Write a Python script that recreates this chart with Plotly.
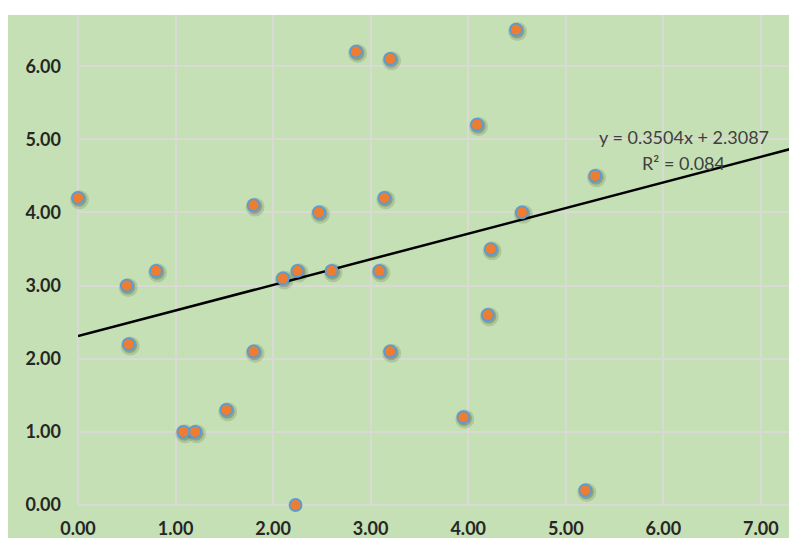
import plotly.graph_objects as go

# Data
x_vals = [0.00, 0.50, 0.80, 0.52, 1.08, 1.20, 1.52, 1.80, 1.80, 2.10, 2.25, 2.23, 2.47, 2.60,
          2.85, 3.09, 3.14, 3.20, 3.20, 3.95, 4.09, 4.20, 4.23, 4.49, 4.55, 5.20, 5.30]
y_vals = [4.20, 3.00, 3.20, 2.20, 1.00, 1.00, 1.30, 2.10, 4.10, 3.10, 3.20, 0.00, 4.00, 3.20,
          6.20, 3.20, 4.20, 6.10, 2.10, 1.20, 5.20, 2.60, 3.50, 6.50, 4.00, 0.20, 4.50]

trend_slope = 0.3504
trend_intercept = 2.3087
trend_r2 = 0.084
trend_x = [0.0, 7.3]
trend_y = [trend_slope * v + trend_intercept for v in trend_x]

x_ticks = [0, 1, 2, 3, 4, 5, 6, 7]
x_tick_labels = ["0.00", "1.00", "2.00", "3.00", "4.00", "5.00", "6.00", "7.00"]
y_ticks = [0, 1, 2, 3, 4, 5, 6]
y_tick_labels = ["0.00", "1.00", "2.00", "3.00", "4.00", "5.00", "6.00"]

GREEN = "#c5e0b4"
GRID = "#dadad4"

fig = go.Figure()

# soft shadow under markers
fig.add_trace(go.Scatter(
    x=[v + 0.015 for v in x_vals], y=[v - 0.025 for v in y_vals], mode="markers",
    marker=dict(size=19, color="rgba(40,60,30,0.15)", line=dict(width=0)),
    hoverinfo="skip", cliponaxis=False, showlegend=False))
fig.add_trace(go.Scatter(
    x=[v + 0.01 for v in x_vals], y=[v - 0.018 for v in y_vals], mode="markers",
    marker=dict(size=15, color="rgba(40,60,30,0.25)", line=dict(width=0)),
    hoverinfo="skip", cliponaxis=False, showlegend=False))

fig.add_trace(go.Scatter(
    x=trend_x, y=trend_y, mode="lines",
    line=dict(color="#000000", width=2.5),
    hoverinfo="skip", cliponaxis=False, showlegend=False))

fig.add_trace(go.Scatter(
    x=x_vals, y=y_vals, mode="markers",
    marker=dict(size=12, color="#ed7d31", line=dict(color="#5b9bd5", width=1.8)),
    cliponaxis=False, showlegend=False))

fig.add_annotation(
    x=6.21, y=5.03, xref="x", yref="y",
    text=f"y = {trend_slope}x + {trend_intercept}",
    showarrow=False, font=dict(family="Lato", size=18, color="#404040"))
fig.add_annotation(
    x=6.21, y=4.67, xref="x", yref="y",
    text=f"R² = {trend_r2}",
    showarrow=False, font=dict(family="Lato", size=18, color="#404040"))

# white strip at top (outside plot area)
fig.add_shape(type="rect", xref="paper", yref="paper",
              x0=-0.2, x1=1.1, y0=1.0, y1=1.2, line=dict(width=0),
              fillcolor="white", layer="below")

tick_font = dict(family="Lato", size=18, color="#262626", weight="bold")

fig.update_layout(
    width=789, height=530,
    margin=dict(l=70, r=0, t=7, b=33),
    paper_bgcolor=GREEN, plot_bgcolor=GREEN,
    xaxis=dict(range=[0, 7.37], tickvals=x_ticks, ticktext=x_tick_labels,
               showgrid=True, gridcolor=GRID, gridwidth=1.5,
               zeroline=True, zerolinecolor=GRID, zerolinewidth=1.5,
               showline=False, ticks="", tickfont=tick_font, ticklabelstandoff=11,
               automargin=False),
    yaxis=dict(range=[0, 6.7], tickvals=y_ticks, ticktext=y_tick_labels,
               showgrid=True, gridcolor=GRID, gridwidth=1.5,
               zeroline=True, zerolinecolor=GRID, zerolinewidth=1.5,
               showline=False, ticks="", tickfont=tick_font, ticklabelstandoff=16,
               automargin=False),
)

fig.write_html("out.html")
